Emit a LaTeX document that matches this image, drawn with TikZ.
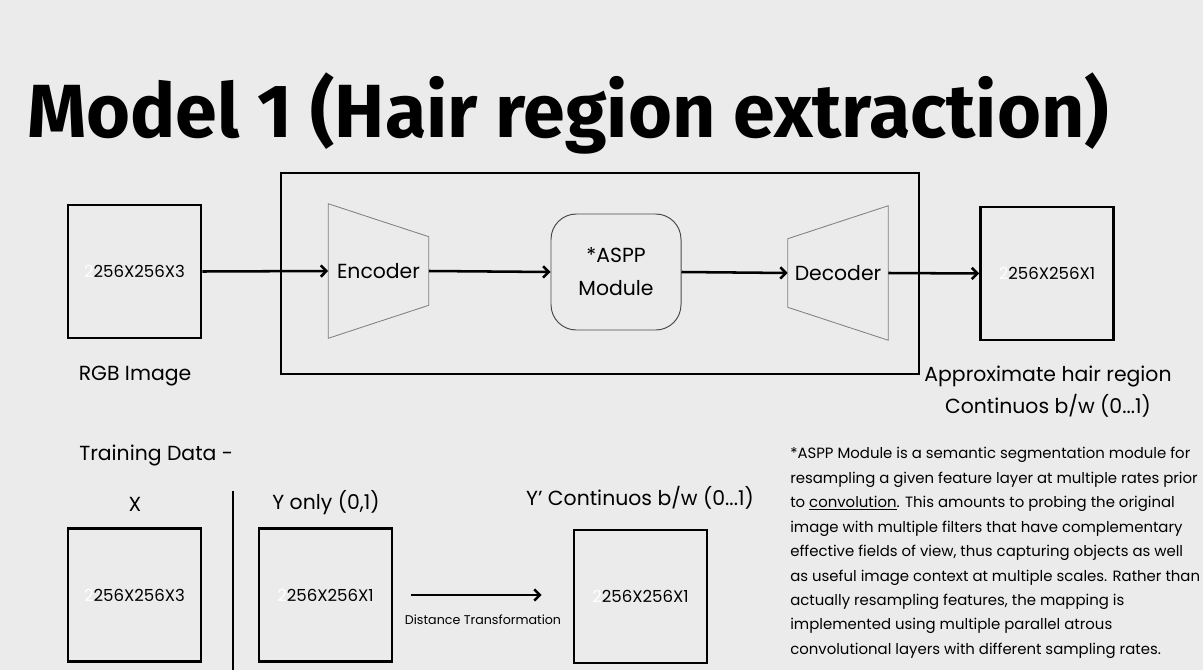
\documentclass[tikz,border=0pt]{standalone}
\usepackage{fontspec}
\setmainfont{Poppins}
\newfontfamily\headfont{Fira Sans}
\usetikzlibrary{arrows.meta,positioning}
\definecolor{paper}{RGB}{235,235,235}

\tikzset{
  imgbox/.style={draw, line width=1.8pt, minimum width=133*0.025cm,
    minimum height=133*0.025cm, inner sep=0pt, font=\fontsize{11.8}{13}\selectfont},
  stagebox/.style={minimum width=100*0.025cm, minimum height=134*0.025cm,
    inner sep=0pt, font=\fontsize{14.5}{17}\selectfont},
  trap/.style={draw=gray, line width=0.6pt},
  flow/.style={-{Straight Barb[length=4pt,width=8pt]}, line width=1.8pt},
  lbl/.style={font=\fontsize{14.5}{22.7}\selectfont, align=center, inner sep=0pt},
}
% white lead digit in front of each size
\newcommand{\dimtext}[1]{\textcolor{white}{2}#1}

\begin{document}
\begin{tikzpicture}[x=0.025cm, y=-0.025cm]
  \fill[paper] (0,0) rectangle (1203,670);
  \useasboundingbox (0,0) rectangle (1203,670);

  % title
  \node[anchor=base west, inner sep=0pt,
    font=\headfont\bfseries\fontsize{53.6}{60}\selectfont] (title) at (27,137)
    {Model 1 (Hair region extraction)};

  % ---- network ----
  \node[draw, line width=1.8pt, minimum width=638*0.025cm,
    minimum height=201*0.025cm] (net) at (600,273.5) {};

  \node[imgbox] (rgb) at (134.5,271.5) {\dimtext{256X256X3}};

  \node[stagebox] (enc) at (378.5,271) {Encoder};
  \draw[trap] (enc.north west) -- ([yshift=-33*0.025cm]enc.north east)
    -- ([yshift=33*0.025cm]enc.south east) -- (enc.south west) -- cycle;

  \node[draw=black!70, line width=0.7pt, rounded corners=18pt,
    minimum width=130*0.025cm, minimum height=116*0.025cm, align=center,
    font=\fontsize{14.5}{23.5}\selectfont] (aspp) at (616,272) {*ASPP\\Module};

  \node[stagebox] (dec) at (838,273) {Decoder};
  \draw[trap] ([yshift=-33*0.025cm]dec.north west) -- (dec.north east)
    -- (dec.south east) -- ([yshift=33*0.025cm]dec.south west) -- cycle;

  \node[imgbox] (out) at (1047,273.5) {\dimtext{256X256X1}};

  \draw[flow] (rgb.east) -- (enc.west);
  \draw[flow] (enc.east) -- (aspp.west);
  \draw[flow] (aspp.east) -- (dec.west);
  \draw[flow] (dec.east) -- (out.west);

  \node[lbl] (rgblbl) at (135,376) {RGB Image};
  \node[lbl] (outlbl) at (1048,392) {Approximate hair region\\Continuos b/w (0...1)};

  % ---- training data ----
  \node[lbl, anchor=west] (train) at (79,455) {Training Data -};
  \node[lbl] (xlbl) at (135,504) {X};
  \draw[line width=1.6pt] (233,491) -- (233,670);
  \node[lbl] (ylbl) at (326,503) {Y only (0,1)};
  \node[lbl] (yplbl) at (640,498) {Y’ Continuos b/w (0...1)};

  \node[imgbox] (xbox) at (134.5,595) {\dimtext{256X256X3}};
  \node[imgbox] (ybox) at (325.5,595) {\dimtext{256X256X1}};
  \node[imgbox] (ypbox) at (640.5,596.5) {\dimtext{256X256X1}};

  \draw[flow, shorten <=18*0.025cm, shorten >=31*0.025cm]
    (ybox.east) -- (ybox.east -| ypbox.west);
  \node[font=\fontsize{9}{10}\selectfont, inner sep=0pt] (dist) at (483,620)
    {Distance Transformation};

  % ---- ASPP note ----
  \node[anchor=north west, align=left, inner sep=0pt,
    font=\fontsize{10.6}{17.4}\selectfont] (note) at (790,447)
    {*ASPP Module is a semantic segmentation module for\\
     resampling a given feature layer at multiple rates prior\\
     to \underline{convolution}. This amounts to probing the original\\
     image with multiple filters that have complementary\\
     effective fields of view, thus capturing objects as well\\
     as useful image context at multiple scales. Rather than\\
     actually resampling features, the mapping is\\
     implemented using multiple parallel atrous\\
     convolutional layers with different sampling rates.};
\end{tikzpicture}
\end{document}
